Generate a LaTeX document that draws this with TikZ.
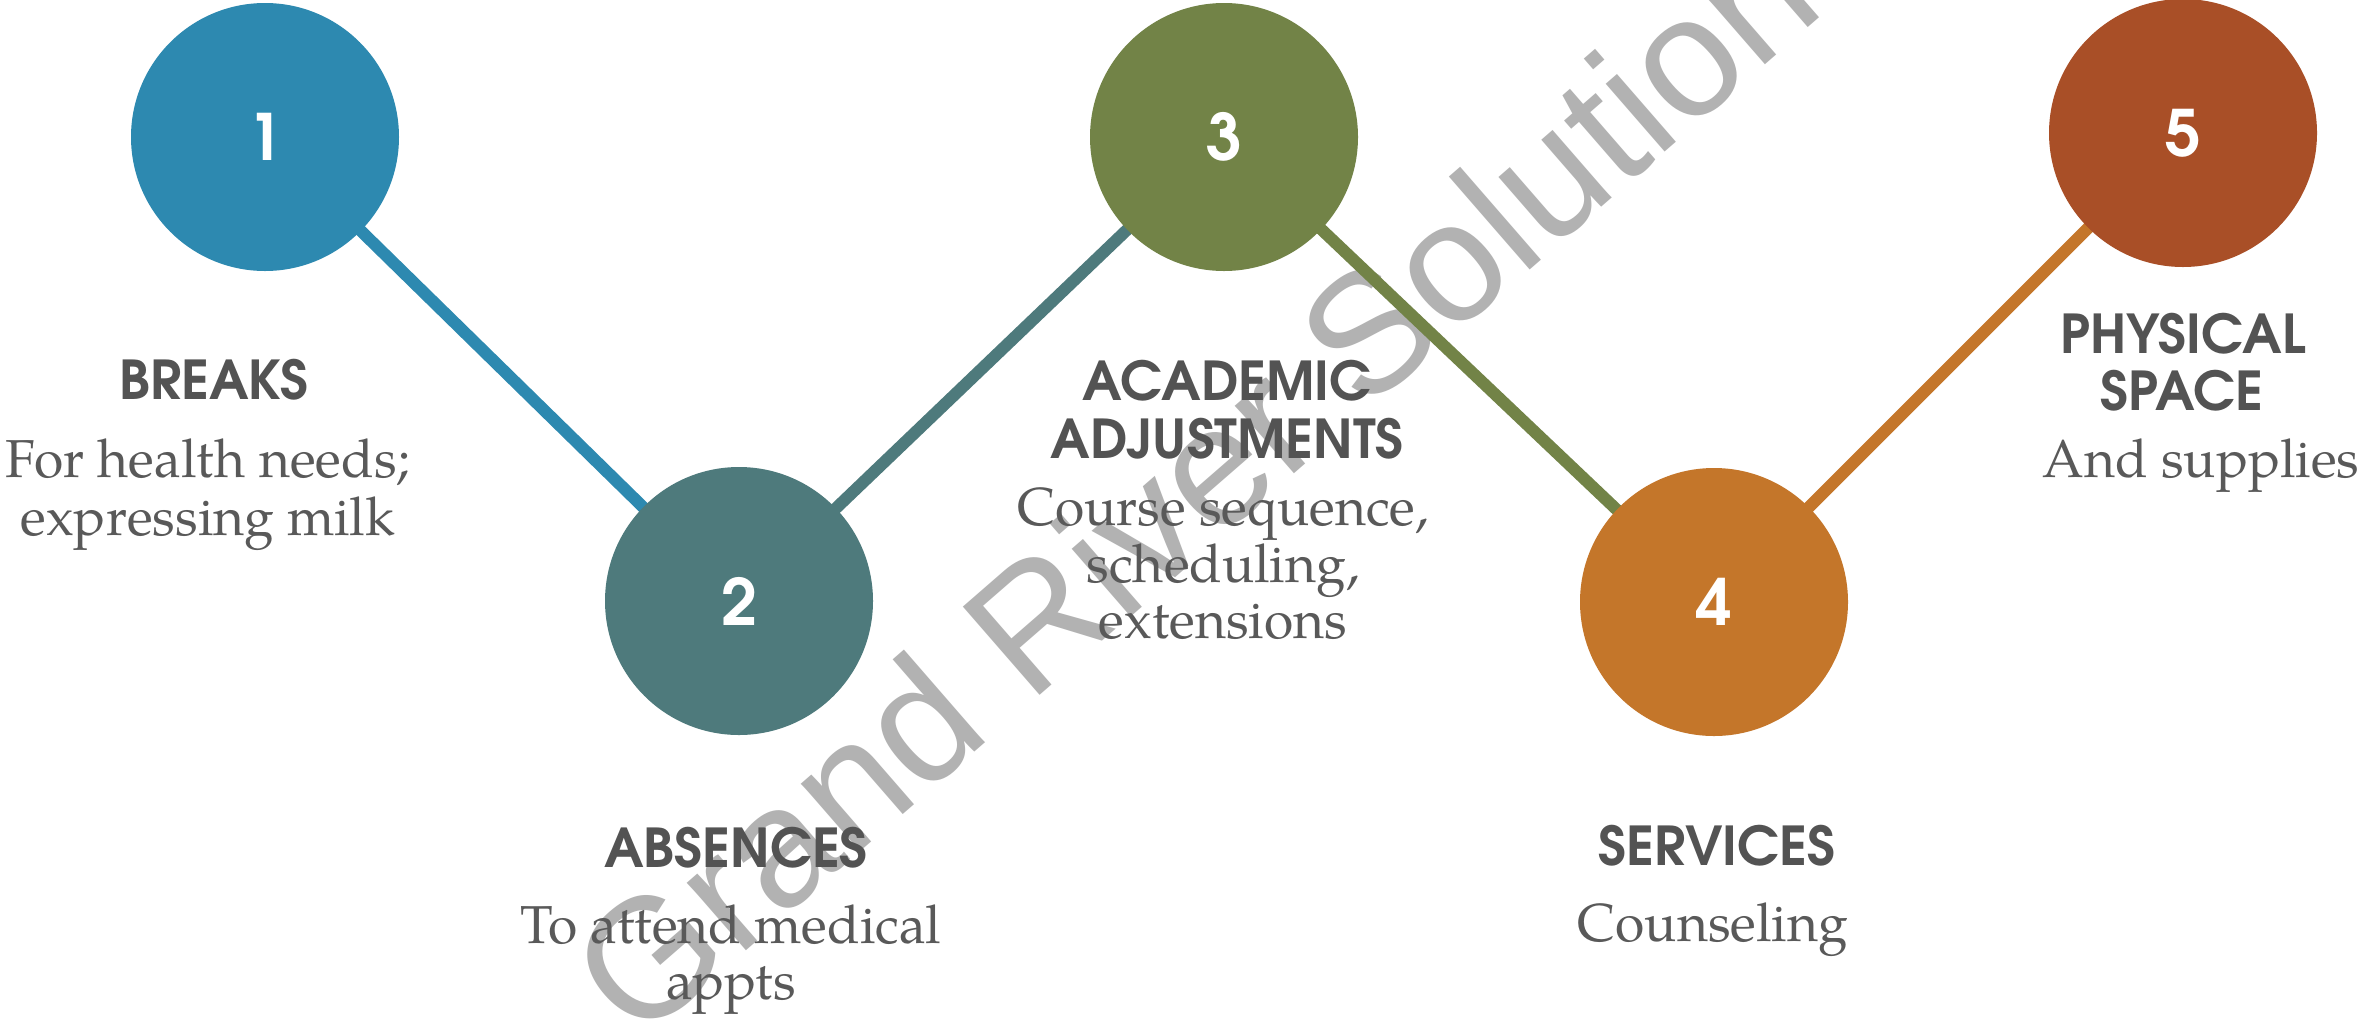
\documentclass[tikz,border=0pt]{standalone}
\usepackage{fontspec}
\newfontfamily\headfont{texgyreadventor-bold}[Extension=.otf]
\newfontfamily\bodyfont{texgyrepagella-regular}[Extension=.otf]
\newfontfamily\wmfont{Liberation Sans}
\definecolor{cone}{HTML}{2D89B0}
\definecolor{ctwo}{HTML}{4E7A7C}
\definecolor{cthree}{HTML}{728347}
\definecolor{cfour}{HTML}{C4762A}
\definecolor{cfive}{HTML}{A94F27}
\definecolor{headgray}{HTML}{535353}
\definecolor{bodygray}{HTML}{595959}
\definecolor{wmgray}{HTML}{B2B2B2}
\pgfdeclarelayer{bg}
\pgfsetlayers{bg,main}
\tikzset{
  stepcircle/.style={circle, minimum size=134pt, inner sep=0pt, text=white, font=\headfont\fontsize{32}{32}\selectfont},
  link/.style={line width=6pt},
  headtxt/.style={anchor=base, inner sep=0pt, text=headgray, font=\headfont\fontsize{26.8}{28}\selectfont},
  bodytxt/.style={anchor=base, inner sep=0pt, text=bodygray, font=\bodyfont\fontsize{26.7}{29}\selectfont},
  wmtxt/.style={anchor=base west, inner sep=0pt, text=wmgray, font=\wmfont\fontsize{85}{85}\selectfont}
}
\begin{document}
\begin{tikzpicture}[x=0.5pt,y=-0.5pt]
\useasboundingbox (0,0) rectangle (2361,1018);
% circles
\node[stepcircle, fill=cone]   (n1) at (265,137) {1};
\node[stepcircle, fill=ctwo]   (n2) at (739,601) {2};
\node[stepcircle, fill=cthree] (n3) at (1224,137) {3};
\node[stepcircle, fill=cfour]  (n4) at (1714,602) {4};
\node[stepcircle, fill=cfive]  (n5) at (2183,133) {5};
\begin{pgfonlayer}{bg}
\fill[white] (0,0) rectangle (2361,1018);
\node[wmtxt, rotate=41] (wm) at (637,1046) {Grand River Solutions};
\draw[link, cone]   (n1.center) -- (n2.center);
\draw[link, ctwo]   (n2.center) -- (n3.center);
\draw[link, cthree] (n3.center) -- (n4.center);
\draw[link, cfour]  (n4.center) -- (n5.center);
\end{pgfonlayer}
% labels
\node[headtxt] (h1) at (214,399) {BREAKS};
\node[bodytxt] (b1a) at (208,477) {For health needs;};
\node[bodytxt] (b1b) at (208,535) {expressing milk};
\node[headtxt] (h2) at (736,867) {ABSENCES};
\node[bodytxt] (b2a) at (731,943) {To attend medical};
\node[bodytxt] (b2b) at (731,999) {appts};
\node[headtxt] (h3a) at (1227,400) {ACADEMIC};
\node[headtxt] (h3b) at (1227,458) {ADJUSTMENTS};
\node[bodytxt] (b3a) at (1223,525) {Course sequence,};
\node[bodytxt] (b3b) at (1223,582) {scheduling,};
\node[bodytxt] (b3c) at (1223,638) {extensions};
\node[headtxt] (h4) at (1717,865) {SERVICES};
\node[bodytxt] (b4) at (1713,941) {Counseling};
\node[headtxt] (h5a) at (2183,353) {PHYSICAL};
\node[headtxt] (h5b) at (2182,410) {SPACE};
\node[bodytxt] (b5) at (2201,477) {And supplies};
\end{tikzpicture}
\end{document}
